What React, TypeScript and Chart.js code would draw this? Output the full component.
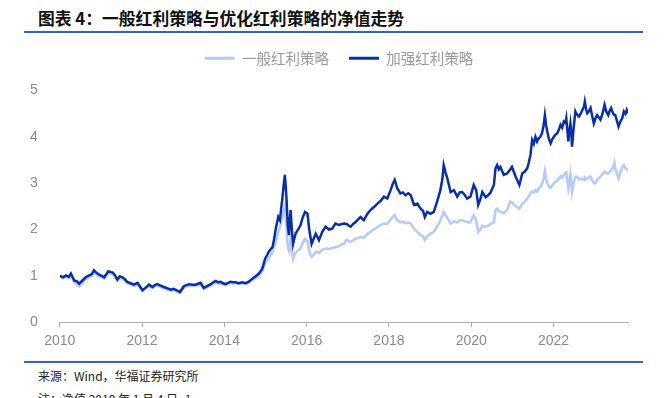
import React, { useEffect, useRef } from "react";
import { Chart, registerables } from "chart.js";
Chart.register(...registerables);

const dates = [
  2010.00, 2010.08, 2010.15, 2010.22, 2010.27, 2010.35, 2010.42, 2010.47, 2010.55, 2010.63,
  2010.71, 2010.78, 2010.83, 2010.90, 2010.95, 2011.02, 2011.08, 2011.18, 2011.24, 2011.29,
  2011.35, 2011.40, 2011.46, 2011.52, 2011.58, 2011.64, 2011.72, 2011.80, 2011.89, 2011.95,
  2012.01, 2012.08, 2012.17, 2012.25, 2012.31, 2012.37, 2012.45, 2012.53, 2012.62, 2012.70,
  2012.76, 2012.82, 2012.92, 2013.02, 2013.08, 2013.14, 2013.22, 2013.30, 2013.36, 2013.42,
  2013.50, 2013.58, 2013.67, 2013.73, 2013.79, 2013.85, 2013.91, 2013.97, 2014.03, 2014.09,
  2014.15, 2014.22, 2014.27, 2014.35, 2014.44, 2014.52, 2014.60, 2014.68, 2014.76, 2014.84,
  2014.92, 2014.99, 2015.04, 2015.08, 2015.13, 2015.17, 2015.21, 2015.25, 2015.31, 2015.35,
  2015.38, 2015.41, 2015.44, 2015.47, 2015.49, 2015.51, 2015.54, 2015.57, 2015.59, 2015.61,
  2015.64, 2015.67, 2015.70, 2015.73, 2015.79, 2015.85, 2015.90, 2015.96, 2016.02, 2016.06,
  2016.09, 2016.12, 2016.17, 2016.22, 2016.30, 2016.38, 2016.46, 2016.54, 2016.62, 2016.70,
  2016.78, 2016.86, 2016.91, 2016.97, 2017.03, 2017.07, 2017.13, 2017.19, 2017.25, 2017.31,
  2017.39, 2017.47, 2017.55, 2017.63, 2017.72, 2017.80, 2017.88, 2017.96, 2018.04, 2018.10,
  2018.14, 2018.20, 2018.28, 2018.34, 2018.40, 2018.47, 2018.53, 2018.61, 2018.69, 2018.77,
  2018.83, 2018.87, 2018.93, 2019.01, 2019.09, 2019.17, 2019.25, 2019.30, 2019.33, 2019.37,
  2019.42, 2019.50, 2019.58, 2019.66, 2019.72, 2019.78, 2019.84, 2019.90, 2019.98, 2020.06,
  2020.12, 2020.17, 2020.22, 2020.27, 2020.35, 2020.41, 2020.47, 2020.55, 2020.59, 2020.63,
  2020.67, 2020.71, 2020.79, 2020.87, 2020.95, 2020.99, 2021.08, 2021.17, 2021.24, 2021.30,
  2021.36, 2021.40, 2021.44, 2021.48, 2021.52, 2021.56, 2021.60, 2021.64, 2021.68, 2021.72,
  2021.76, 2021.79, 2021.82, 2021.85, 2021.89, 2021.93, 2021.97, 2022.01, 2022.05, 2022.09,
  2022.13, 2022.17, 2022.21, 2022.25, 2022.29, 2022.31, 2022.36, 2022.38, 2022.41, 2022.43,
  2022.45, 2022.49, 2022.53, 2022.57, 2022.62, 2022.66, 2022.70, 2022.74, 2022.76, 2022.79,
  2022.82, 2022.86, 2022.90, 2022.94, 2022.98, 2023.02, 2023.06, 2023.10, 2023.14, 2023.19,
  2023.24, 2023.28, 2023.33, 2023.36, 2023.40, 2023.45, 2023.48, 2023.50, 2023.54, 2023.58,
  2023.62, 2023.67, 2023.71, 2023.75, 2023.78, 2023.81,
];

const enhanced = [
  1.00, 0.97, 1.01, 0.98, 1.05, 0.90, 0.88, 0.83, 0.90, 0.97,
  1.01, 1.04, 1.12, 1.06, 1.03, 1.00, 0.97, 1.10, 1.08, 1.07,
  1.00, 0.92, 0.99, 0.97, 0.93, 0.87, 0.84, 0.81, 0.85, 0.77,
  0.69, 0.74, 0.81, 0.76, 0.80, 0.82, 0.79, 0.76, 0.73, 0.70,
  0.72, 0.70, 0.65, 0.78, 0.80, 0.82, 0.81, 0.81, 0.83, 0.85,
  0.74, 0.78, 0.82, 0.86, 0.89, 0.86, 0.87, 0.84, 0.82, 0.85,
  0.87, 0.86, 0.86, 0.84, 0.86, 0.84, 0.88, 0.94, 0.99, 1.05,
  1.15, 1.37, 1.45, 1.52, 1.58, 1.62, 1.80, 2.02, 2.27, 2.20,
  2.45, 2.67, 2.95, 3.18, 2.95, 2.67, 2.10, 1.88, 2.20, 2.42,
  2.00, 1.69, 1.80, 1.91, 2.00, 2.09, 2.25, 2.38, 2.34, 2.02,
  1.85, 1.69, 1.80, 1.91, 1.77, 1.95, 2.06, 2.00, 2.02, 2.13,
  2.10, 2.12, 2.13, 2.12, 2.08, 2.06, 2.12, 2.16, 2.22, 2.27,
  2.20, 2.33, 2.42, 2.48, 2.56, 2.62, 2.71, 2.67, 2.85, 3.00,
  3.07, 2.89, 2.78, 2.80, 2.74, 2.78, 2.74, 2.53, 2.56, 2.45,
  2.40, 2.27, 2.38, 2.34, 2.38, 2.60, 2.85, 3.10, 3.39, 3.25,
  3.10, 2.81, 2.85, 2.71, 2.80, 2.81, 2.75, 2.67, 2.71, 2.96,
  2.85, 2.53, 2.65, 2.81, 2.70, 2.74, 2.80, 2.96, 3.32, 3.39,
  3.30, 3.35, 3.18, 3.21, 3.30, 3.35, 3.14, 2.96, 3.21, 3.25,
  3.32, 3.45, 3.61, 3.93, 3.85, 4.00, 3.90, 3.97, 4.00, 4.08,
  4.25, 4.47, 4.25, 4.11, 3.95, 3.86, 3.95, 4.00, 4.05, 4.08,
  4.15, 4.26, 4.20, 4.33, 4.30, 4.40, 3.90, 4.10, 4.29, 4.10,
  3.79, 4.20, 4.55, 4.48, 4.44, 4.50, 4.58, 4.65, 4.76, 4.60,
  4.51, 4.55, 4.62, 4.45, 4.29, 4.40, 4.47, 4.42, 4.37, 4.50,
  4.69, 4.55, 4.47, 4.55, 4.62, 4.50, 4.47, 4.47, 4.35, 4.22,
  4.32, 4.40, 4.55, 4.50, 4.58, 4.51,
];

const general = [
  1.00, 0.95, 0.98, 0.96, 1.02, 0.86, 0.83, 0.77, 0.85, 0.93,
  0.97, 1.00, 1.08, 1.02, 0.99, 0.97, 0.94, 1.07, 1.05, 1.04,
  0.97, 0.89, 0.96, 0.94, 0.90, 0.84, 0.81, 0.78, 0.82, 0.74,
  0.67, 0.72, 0.78, 0.74, 0.77, 0.79, 0.76, 0.73, 0.70, 0.68,
  0.69, 0.67, 0.63, 0.75, 0.77, 0.79, 0.78, 0.78, 0.80, 0.82,
  0.71, 0.75, 0.79, 0.83, 0.86, 0.83, 0.84, 0.81, 0.80, 0.83,
  0.85, 0.84, 0.84, 0.82, 0.84, 0.82, 0.86, 0.91, 0.95, 1.00,
  1.10, 1.26, 1.33, 1.38, 1.45, 1.52, 1.63, 1.73, 1.95, 2.05,
  2.15, 2.25, 2.40, 2.50, 2.30, 2.05, 1.65, 1.55, 1.70, 1.80,
  1.55, 1.37, 1.45, 1.50, 1.55, 1.59, 1.70, 1.80, 1.75, 1.55,
  1.45, 1.41, 1.45, 1.52, 1.50, 1.56, 1.59, 1.58, 1.60, 1.62,
  1.64, 1.68, 1.69, 1.78, 1.75, 1.73, 1.77, 1.80, 1.82, 1.84,
  1.82, 1.90, 1.95, 2.00, 2.05, 2.10, 2.13, 2.12, 2.22, 2.28,
  2.31, 2.20, 2.16, 2.17, 2.14, 2.15, 2.13, 2.02, 1.95, 1.88,
  1.85, 1.77, 1.85, 1.91, 1.95, 2.06, 2.20, 2.30, 2.38, 2.32,
  2.25, 2.13, 2.18, 2.15, 2.20, 2.20, 2.18, 2.16, 2.16, 2.31,
  2.20, 1.95, 2.00, 2.08, 2.06, 2.08, 2.12, 2.16, 2.42, 2.45,
  2.40, 2.38, 2.35, 2.42, 2.60, 2.58, 2.50, 2.45, 2.55, 2.60,
  2.67, 2.72, 2.78, 2.82, 2.80, 2.85, 2.82, 2.88, 2.92, 2.98,
  3.10, 3.26, 3.10, 3.00, 2.92, 2.90, 2.95, 3.00, 3.03, 3.05,
  3.10, 3.15, 3.12, 3.18, 3.21, 3.23, 2.89, 3.00, 3.18, 3.00,
  2.81, 3.02, 3.14, 3.14, 3.08, 3.10, 3.09, 3.07, 3.12, 3.08,
  3.10, 3.12, 3.14, 3.06, 3.00, 3.00, 3.08, 3.10, 3.14, 3.20,
  3.25, 3.22, 3.21, 3.24, 3.28, 3.35, 3.43, 3.30, 3.20, 3.10,
  3.22, 3.35, 3.39, 3.32, 3.30, 3.28,
];

const seriesNames = ["一般红利策略", "加强红利策略"];
const xTickValues = [2010, 2012, 2014, 2016, 2018, 2020, 2022];
const yTickValues = [0, 1, 2, 3, 4, 5];

const LIGHT = "#b7cafc";
const DARK = "#0a2ea3";
const RULE = "#3a62c6";

const legendGap = {
  id: "legendGap",
  afterInit(chart: any) {
    const lg = chart.legend;
    if (!lg) return;
    const origFit = lg.fit;
    lg.fit = function () {
      origFit.call(this);
      this.height += 15;
    };
  },
  afterLayout(chart: any) {
    const lg = chart.legend;
    if (!lg) return;
    lg.left += 17;
    lg.right += 17;
  },
};

export default function App() {
  const ref = useRef<HTMLCanvasElement>(null);
  useEffect(() => {
    const canvas = ref.current;
    if (!canvas) return;
    const chart = new Chart(canvas, {
      type: "line",
      data: {
        datasets: [
          {
            label: seriesNames[0],
            data: dates.map((d, i) => ({ x: d, y: general[i] })),
            borderColor: LIGHT,
            backgroundColor: LIGHT,
            borderWidth: 2.6,
            pointRadius: 0,
            tension: 0,
            order: 1,
          },
          {
            label: seriesNames[1],
            data: dates.map((d, i) => ({ x: d, y: enhanced[i] })),
            borderColor: DARK,
            backgroundColor: DARK,
            borderWidth: 2.5,
            pointRadius: 0,
            tension: 0,
            order: 0,
          },
        ],
      },
      plugins: [legendGap],
      options: {
        animation: false,
        responsive: false,
        maintainAspectRatio: false,
        layout: { padding: { left: 16, right: 37, top: 8, bottom: 4 } },
        plugins: {
          tooltip: { enabled: false },
          legend: {
            display: true,
            position: "top",
            labels: {
              boxWidth: 30,
              boxHeight: 3,
              padding: 20,
              color: "#9a9a9a",
              font: { family: "'Noto Sans CJK SC'", size: 14.5 },
              sort: (a: any, b: any) => a.datasetIndex - b.datasetIndex,
              generateLabels: (c: any) => {
                const items = (Chart as any).defaults.plugins.legend.labels.generateLabels(c);
                return items.map((it: any) => ({ ...it, lineWidth: 0 }));
              },
            },
          },
        },
        scales: {
          x: {
            type: "linear",
            min: dates[0],
            max: dates[dates.length - 1],
            afterBuildTicks: (s: any) => {
              s.ticks = xTickValues.map((v) => ({ value: v }));
            },
            ticks: {
              color: "#8a8a8a",
              font: { family: "'Liberation Sans', Arial", size: 14 },
              padding: 6,
              maxRotation: 0,
              autoSkip: false,
              callback: (v: any) => String(v),
            },
            grid: { drawOnChartArea: false, drawTicks: true, tickLength: 5, color: "#b0b0b0" },
            border: { display: true, color: "#b0b0b0", width: 1 },
          },
          y: {
            min: 0,
            max: 5,
            afterBuildTicks: (s: any) => {
              s.ticks = yTickValues.map((v) => ({ value: v }));
            },
            ticks: {
              color: "#8a8a8a",
              font: { family: "'Liberation Sans', Arial", size: 14 },
              padding: 14,
            },
            grid: { display: false },
            border: { display: false },
          },
        },
      },
    });
    return () => chart.destroy();
  }, []);

  return (
    <div
      style={{
        position: "fixed",
        left: 0,
        top: 0,
        width: 665,
        height: 398,
        background: "#fff",
        overflow: "hidden",
        fontFamily: "'Noto Sans CJK SC', sans-serif",
      }}
    >
      <div
        style={{
          position: "absolute",
          left: 38,
          top: 7,
          fontSize: 16.8,
          fontWeight: 700,
          color: "#111",
          lineHeight: "22px",
          whiteSpace: "nowrap",
        }}
      >
        图表 4：一般红利策略与优化红利策略的净值走势
      </div>
      <div style={{ position: "absolute", left: 24, top: 31, width: 619, height: 2, background: RULE }} />
      <div style={{ position: "absolute", left: 0, top: 23, width: 665, height: 337 }}>
        <canvas ref={ref} width={665} height={337} style={{ width: 665, height: 337, display: "block" }} />
      </div>
      <div style={{ position: "absolute", left: 24, top: 361, width: 619, height: 2, background: RULE }} />
      <div
        style={{
          position: "absolute",
          left: 38,
          top: 367,
          fontSize: 12,
          color: "#222",
          lineHeight: "18px",
          whiteSpace: "nowrap",
        }}
      >
        来源：Wind，华福证券研究所
      </div>
      <div
        style={{
          position: "absolute",
          left: 38,
          top: 390,
          fontSize: 12,
          color: "#222",
          lineHeight: "18px",
          whiteSpace: "nowrap",
        }}
      >
        注：净值 2010 年 1 月 4 日=1
      </div>
    </div>
  );
}
